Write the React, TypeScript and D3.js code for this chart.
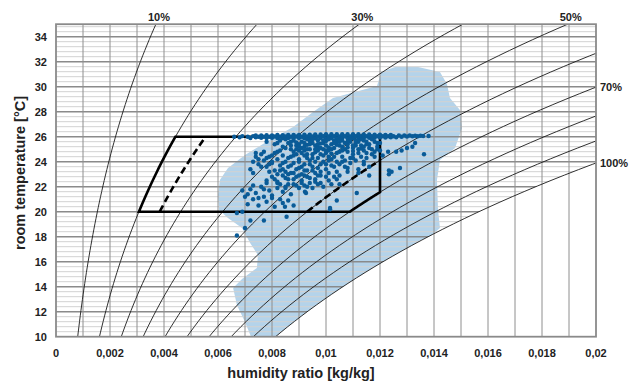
import * as d3 from 'd3'

// axis ticks
const xTicks = [0, 0.002, 0.004, 0.006, 0.008, 0.01, 0.012, 0.014, 0.016, 0.018, 0.02]
const yTicks = [10, 12, 14, 16, 18, 20, 22, 24, 26, 28, 30, 32, 34]

// relative humidity curves and the ones that carry a label
const rhLevels = [0.1, 0.2, 0.3, 0.4, 0.5, 0.6, 0.7, 0.8, 0.9, 1.0]
const rhTopLabels = [0.1, 0.3, 0.5]
const rhRightLabels = [0.7, 1.0]

// comfort zone: temperature band, rh limits, max humidity ratio
const comfortT = [20, 26]
const comfortRh = [0.2, 0.7]
const comfortWMax = 0.012
const dashedRh = [0.25, 0.6]

// measured range (light blue cloud), [humidity ratio, temperature]
const cloudOutline: [number, number][] = [
    [0.00726, 9.8], [0.0070, 11.18], [0.0067, 12.54], [0.00656, 13.9], [0.00689, 14.62],
    [0.00744, 15.5], [0.00748, 16.54], [0.00719, 17.5], [0.00689, 18.7], [0.00637, 19.5],
    [0.00604, 20.14], [0.0060, 21.34], [0.00607, 22.54], [0.00637, 23.5], [0.0070, 24.54],
    [0.00785, 25.66], [0.00878, 26.78], [0.00952, 27.98], [0.01026, 29.1], [0.01107, 29.58],
    [0.01189, 30.06], [0.01204, 31.18], [0.01256, 31.58], [0.01341, 31.58], [0.01422, 31.18],
    [0.01448, 30.22], [0.01459, 29.1], [0.01496, 28.14], [0.01504, 26.7], [0.01478, 25.1],
    [0.01422, 24.14], [0.01411, 22.54], [0.01415, 20.14], [0.01422, 18.7], [0.01385, 18.0],
    [0.01335, 17.6], [0.0135, 17.0], [0.012, 14.5], [0.0095, 9.5],
]

// hourly readings near 26 °C (upper limit band)
const bandPoints: [number, number][] = [
    [0.0066, 26.0], [0.0068, 25.95], [0.0069, 26.05], [0.0071, 26.0], [0.0072, 25.9], [0.0073, 26.05],
    [0.0074, 25.95], [0.0074, 26.1], [0.0075, 26.0], [0.0076, 25.92], [0.0076, 26.1], [0.0077, 26.0],
    [0.0078, 25.9], [0.0078, 26.12], [0.0079, 26.0], [0.0080, 25.92], [0.0080, 26.1], [0.0081, 26.02],
    [0.0082, 25.9], [0.0082, 26.14], [0.0083, 26.0], [0.0084, 25.9], [0.0084, 26.12], [0.0085, 26.02],
    [0.0086, 25.9], [0.0086, 26.14], [0.0087, 26.0], [0.0088, 25.9], [0.0088, 26.15], [0.0089, 26.02],
    [0.0090, 25.9], [0.0090, 26.15], [0.0091, 26.0], [0.0092, 25.88], [0.0092, 26.16], [0.0093, 26.02],
    [0.0094, 25.9], [0.0094, 26.16], [0.0095, 26.02], [0.0096, 25.88], [0.0096, 26.18], [0.0097, 26.0],
    [0.0098, 25.9], [0.0098, 26.18], [0.0099, 26.04], [0.0100, 25.88], [0.0100, 26.2], [0.0101, 26.02],
    [0.0102, 25.9], [0.0102, 26.2], [0.0103, 26.04], [0.0104, 25.88], [0.0104, 26.2], [0.0105, 26.02],
    [0.0106, 25.9], [0.0106, 26.2], [0.0107, 26.04], [0.0108, 25.88], [0.0108, 26.2], [0.0109, 26.02],
    [0.0110, 25.9], [0.0110, 26.2], [0.0111, 26.04], [0.0112, 25.9], [0.0112, 26.2], [0.0113, 26.02],
    [0.0114, 25.9], [0.0114, 26.18], [0.0115, 26.04], [0.0116, 25.92], [0.0116, 26.18], [0.0117, 26.04],
    [0.0118, 25.92], [0.0118, 26.16], [0.0119, 26.04], [0.0120, 25.94], [0.0120, 26.16], [0.0121, 26.04],
    [0.0122, 25.94], [0.0122, 26.14], [0.0123, 26.04], [0.0124, 25.96], [0.0124, 26.14], [0.0125, 26.04],
    [0.0126, 25.96], [0.0127, 26.1], [0.0128, 26.0], [0.0129, 26.1], [0.0130, 26.02], [0.0131, 26.1],
    [0.0132, 26.04], [0.0133, 26.08], [0.0134, 26.04], [0.0135, 26.08], [0.0136, 26.06], [0.0138, 26.06],
]

// hourly readings below the upper limit
const cloudPoints: [number, number][] = [
    // just under 26 °C
    [0.0078, 25.6], [0.0081, 25.4], [0.0083, 25.7], [0.0084, 25.2], [0.0086, 25.5], [0.0087, 25.0],
    [0.0088, 25.7], [0.0089, 25.3], [0.0090, 24.9], [0.0091, 25.6], [0.0092, 25.2], [0.0093, 25.8],
    [0.0094, 25.0], [0.0095, 25.5], [0.0096, 25.3], [0.0097, 24.9], [0.0097, 25.7], [0.0098, 25.1],
    [0.0099, 25.5], [0.0100, 25.3], [0.0101, 25.8], [0.0101, 24.9], [0.0102, 25.4], [0.0103, 25.1],
    [0.0104, 25.6], [0.0105, 25.3], [0.0105, 24.8], [0.0106, 25.7], [0.0107, 25.0], [0.0108, 25.4],
    [0.0109, 25.6], [0.0110, 25.1], [0.0111, 25.5], [0.0112, 24.7], [0.0113, 25.3], [0.0114, 25.7],
    [0.0116, 25.4], [0.0117, 25.0], [0.0118, 25.6], [0.0119, 25.2], [0.0085, 25.8], [0.0090, 25.4],
    [0.0095, 25.8], [0.0099, 25.0], [0.0103, 25.7], [0.0107, 25.5], [0.0100, 24.7], [0.0093, 24.6],
    [0.0088, 24.8], [0.0113, 25.8], [0.0115, 24.3], [0.0116, 25.1], [0.0117, 25.8], [0.0118, 24.8],
    [0.0119, 25.5], [0.0120, 24.9],
    [0.0089, 25.55], [0.0091, 25.1], [0.0093, 25.35], [0.0094, 25.65], [0.0096, 24.75], [0.0098, 25.45],
    [0.0100, 25.65], [0.0101, 25.15], [0.0102, 24.65], [0.0104, 25.35], [0.0106, 24.9], [0.0108, 25.15],
    [0.0109, 25.8], [0.0110, 24.85], [0.0111, 25.3], [0.0112, 25.6], [0.0114, 24.9], [0.0115, 25.4],
    [0.0092, 24.9], [0.0097, 25.15], [0.0105, 25.75], [0.0113, 25.05], [0.0087, 25.6], [0.0082, 25.5],
    // dense core 23 – 25.8 °C
    [0.0083, 24.9], [0.0084, 23.9], [0.0085, 25.1], [0.0086, 24.3], [0.0086, 23.0], [0.0087, 25.3],
    [0.0087, 23.7], [0.0088, 24.5], [0.0089, 23.4], [0.0089, 25.0], [0.0090, 24.0], [0.0090, 25.2],
    [0.0091, 23.6], [0.0091, 24.7], [0.0092, 25.5], [0.0092, 23.3], [0.0093, 24.3], [0.0093, 25.0],
    [0.0094, 23.8], [0.0094, 25.4], [0.0095, 24.3], [0.0095, 23.3], [0.0096, 25.0], [0.0096, 24.0],
    [0.0097, 23.5], [0.0097, 25.4], [0.0098, 24.6], [0.0098, 23.2], [0.0099, 24.0], [0.0099, 25.7],
    [0.0100, 24.9], [0.0100, 23.8], [0.0101, 24.4], [0.0101, 23.1], [0.0102, 25.0], [0.0102, 24.2],
    [0.0103, 23.6], [0.0103, 25.5], [0.0104, 24.7], [0.0104, 24.0], [0.0105, 25.6], [0.0105, 23.8],
    [0.0106, 24.4], [0.0106, 25.2], [0.0107, 24.1], [0.0107, 23.6], [0.0108, 24.8], [0.0108, 25.6],
    [0.0109, 24.3], [0.0109, 23.9], [0.0110, 25.3], [0.0110, 24.6], [0.0111, 24.1], [0.0111, 25.7],
    [0.0112, 25.0], [0.0113, 24.4], [0.0114, 25.2], [0.0115, 24.7], [0.0115, 25.6], [0.0117, 24.6],
    [0.0119, 25.0], [0.0120, 25.5],
    // 23 – 24.8 °C
    [0.0074, 24.4], [0.0075, 23.8], [0.0076, 24.6], [0.0077, 24.1], [0.0078, 23.6], [0.0079, 24.4],
    [0.0080, 23.9], [0.0081, 24.7], [0.0081, 23.3], [0.0082, 24.2], [0.0083, 23.7], [0.0084, 24.5],
    [0.0085, 23.2], [0.0085, 24.0], [0.0086, 23.6], [0.0087, 24.4], [0.0088, 23.1], [0.0088, 23.9],
    [0.0089, 24.6], [0.0090, 23.5], [0.0090, 24.2], [0.0091, 23.0], [0.0092, 23.8], [0.0092, 24.5],
    [0.0093, 23.3], [0.0094, 24.1], [0.0095, 23.6], [0.0095, 24.6], [0.0096, 23.1], [0.0097, 24.3],
    [0.0098, 23.8], [0.0099, 24.5], [0.0100, 23.4], [0.0101, 24.1], [0.0102, 23.7], [0.0103, 24.4],
    [0.0104, 23.2], [0.0106, 24.0], [0.0108, 23.5], [0.0110, 24.3], [0.0112, 23.4], [0.0114, 24.0],
    [0.0116, 23.6], [0.0118, 24.4], [0.0072, 23.4], [0.0073, 23.1],
    [0.0073, 24.0], [0.0074, 24.7], [0.0075, 24.2], [0.0076, 23.6], [0.0077, 24.8], [0.0078, 24.3],
    [0.0079, 23.8], [0.0080, 24.5], [0.0080, 24.0], [0.0082, 24.8], [0.0083, 23.3],
    // 21.8 – 23 °C
    [0.0080, 22.8], [0.0082, 22.3], [0.0084, 22.9], [0.0085, 22.0], [0.0086, 22.6], [0.0088, 22.2],
    [0.0089, 22.8], [0.0090, 21.9], [0.0091, 22.5], [0.0092, 22.1], [0.0093, 22.8], [0.0094, 22.3],
    [0.0095, 21.9], [0.0096, 22.6], [0.0097, 22.2], [0.0098, 22.9], [0.0099, 22.0], [0.0101, 22.5],
    [0.0103, 22.8], [0.0105, 22.2],
    [0.0078, 22.5], [0.0079, 23.2], [0.0081, 22.6], [0.0082, 23.0], [0.0083, 22.2], [0.0084, 23.4],
    [0.0085, 22.7], [0.0086, 22.2], [0.0087, 23.1], [0.0088, 22.6], [0.0089, 22.1], [0.0090, 22.9],
    [0.0091, 22.3], [0.0092, 22.9], [0.0093, 22.0], [0.0094, 22.7], [0.0096, 22.4], [0.0097, 22.9],
    [0.0098, 22.3], [0.0100, 22.8], [0.0102, 22.2], [0.0104, 22.6],
    // 20.3 – 22 °C
    [0.0070, 21.2], [0.0071, 20.6], [0.0072, 21.8], [0.0073, 21.0], [0.0074, 21.5], [0.0075, 20.5],
    [0.0076, 22.0], [0.0077, 21.2], [0.0078, 20.8], [0.0079, 21.7], [0.0080, 21.3], [0.0081, 20.4],
    [0.0082, 21.9], [0.0083, 21.0], [0.0084, 21.6], [0.0086, 20.9], [0.0087, 21.4], [0.0088, 20.5],
    [0.0069, 21.7], [0.0071, 21.4], [0.0073, 22.1], [0.0075, 21.1], [0.0077, 21.8], [0.0078, 22.3],
    [0.0080, 21.1], [0.0082, 22.4], [0.0084, 20.7], [0.0085, 21.9],
    // scattered
    [0.0067, 18.1], [0.0067, 19.9], [0.0069, 20.0], [0.0070, 18.7], [0.0072, 19.3], [0.0077, 19.3],
    [0.00854, 19.6], [0.00848, 20.4], [0.00922, 21.6], [0.00926, 21.5], [0.01015, 20.3], [0.01015, 20.2],
    [0.0104, 20.9], [0.01114, 21.5], [0.0105, 22.9], [0.0108, 23.2], [0.0112, 23.1], [0.0116, 22.9],
    [0.01233, 23.3], [0.01243, 23.2], [0.01233, 23.0], [0.01274, 23.5], [0.0114, 23.8],
    [0.0121, 24.5], [0.0123, 24.8], [0.0126, 24.8], [0.0128, 24.9], [0.0130, 25.1], [0.0132, 25.2],
    [0.0133, 25.5], [0.01363, 24.6],
]

const P = 95 // kPa, chart pressure
const satP = (t: number) => 0.61094 * Math.exp((17.625 * t) / (t + 243.04))
const ratio = (t: number, rh: number) => {
    const pv = rh * satP(t)
    return (0.622 * pv) / (P - pv)
}
const tempAt = (w: number, rh: number) => {
    const ps = (w * P) / (0.622 + w) / rh
    const l = Math.log(ps / 0.61094)
    return (243.04 * l) / (17.625 - l)
}

const width = 629
const height = 382
const margin = { top: 24.2, right: 33, bottom: 45.3, left: 56 }

const commaFmt = d3.formatLocale({ decimal: ',', thousands: '.', grouping: [3], currency: ['', ''] }).format('~g')

export default function App() {
    const x = d3.scaleLinear().domain([0, 0.02]).range([margin.left, width - margin.right])
    const y = d3.scaleLinear().domain([10, 35]).range([height - margin.bottom, margin.top])
    const [x0, x1] = x.range()
    const [y0, y1] = y.range()

    const line = d3
        .line<[number, number]>()
        .x((d) => x(d[0]))
        .y((d) => y(d[1]))

    const curve = (rh: number, t0: number, t1: number) =>
        d3.range(t0, t1 + 1e-9, (t1 - t0) / 60).map((t) => [ratio(t, rh), t] as [number, number])

    // area left of the saturation line
    const tSat = tempAt(0.02, 1)
    const satArea: [number, number][] = [[0, 10], ...curve(1, 10, tSat), [0.02, 35], [0, 35]]

    const minorT = d3.range(10, 35.001, 0.4).filter((t) => Math.abs(t / 2 - Math.round(t / 2)) > 0.01)
    const vLines = d3.range(1, 20).map((i) => i * 0.001)

    // comfort zone outline and dashed limits
    const tTopRight = tempAt(comfortWMax, comfortRh[1])
    const comfortPath =
        line([
            ...curve(comfortRh[0], comfortT[0], comfortT[1]),
            [comfortWMax, comfortT[1]],
            ...curve(comfortRh[1], comfortT[0], tTopRight).reverse(),
        ]) + 'Z'
    const dashA = line(curve(dashedRh[0], comfortT[0], comfortT[1]))
    const dashB = line(curve(dashedRh[1], comfortT[0], tempAt(comfortWMax, dashedRh[1])))

    const bold = { fontFamily: 'Liberation Sans, Arial, sans-serif', fontWeight: 700, fill: '#222' }

    return (
        <svg width={width} height={height} style={{ position: 'absolute', left: 0, top: 0, background: '#fff' }}>
            <defs>
                <clipPath id="sat">
                    <path d={line(satArea) + 'Z'} />
                </clipPath>
                <clipPath id="plot">
                    <rect x={x0} y={y1} width={x1 - x0} height={y0 - y1} />
                </clipPath>
            </defs>

            <g clipPath="url(#sat)">
                <path d={line(cloudOutline) + 'Z'} fill="#b4d3ea" />
                {minorT.map((t) => (
                    <line key={'m' + t} x1={x0} x2={x1} y1={y(t)} y2={y(t)} stroke="#d2d2d2" strokeWidth={1} />
                ))}
                {yTicks.map((t) => (
                    <line key={'M' + t} x1={x0} x2={x1} y1={y(t)} y2={y(t)} stroke="#8a8a8a" strokeWidth={1.6} />
                ))}
            </g>

            {vLines.map((w) => (
                <line key={'v' + w} x1={x(w)} x2={x(w)} y1={y0} y2={y1} stroke="#8e8e8e" strokeWidth={1} />
            ))}

            <g clipPath="url(#plot)" fill="none" stroke="#1a1a1a" strokeWidth={0.9}>
                {rhLevels.map((rh) => (
                    <path key={rh} d={line(curve(rh, 9.5, 35.5)) ?? ''} />
                ))}
            </g>

            <rect x={x0} y={y1} width={x1 - x0} height={y0 - y1} fill="none" stroke="#8a8a8a" strokeWidth={1.8} />

            <path d={comfortPath} fill="none" stroke="#000" strokeWidth={2.6} />
            <path d={dashA ?? ''} fill="none" stroke="#000" strokeWidth={2.6} strokeDasharray="7,4" />
            <path d={dashB ?? ''} fill="none" stroke="#000" strokeWidth={2.6} strokeDasharray="7,4" />

            <g fill="#0a5b97">
                {bandPoints.concat(cloudPoints).map((d, i) => (
                    <circle key={i} cx={x(d[0])} cy={y(d[1])} r={2.2} />
                ))}
            </g>

            {yTicks.map((t) => (
                <text key={t} x={47} y={y(t) + 4} textAnchor="end" fontSize={11} {...bold}>
                    {t}
                </text>
            ))}
            {xTicks.map((w) => (
                <text key={w} x={x(w)} y={357} textAnchor="middle" fontSize={11} {...bold}>
                    {commaFmt(w)}
                </text>
            ))}

            {rhTopLabels.map((rh) => (
                <text key={rh} x={x(ratio(35, rh)) + 3} y={21} textAnchor="middle" fontSize={11} {...bold}>
                    {Math.round(rh * 100)}%
                </text>
            ))}
            {rhRightLabels.map((rh) => (
                <text key={rh} x={x1 + 4} y={y(tempAt(0.02, rh)) + 4} textAnchor="start" fontSize={11} {...bold}>
                    {Math.round(rh * 100)}%
                </text>
            ))}

            <text x={301} y={378} textAnchor="middle" fontSize={14.5} {...bold}>
                humidity ratio [kg/kg]
            </text>
            <text transform="translate(25,173) rotate(-90)" textAnchor="middle" fontSize={14.5} {...bold}>
                room temperature [°C]
            </text>
        </svg>
    )
}
